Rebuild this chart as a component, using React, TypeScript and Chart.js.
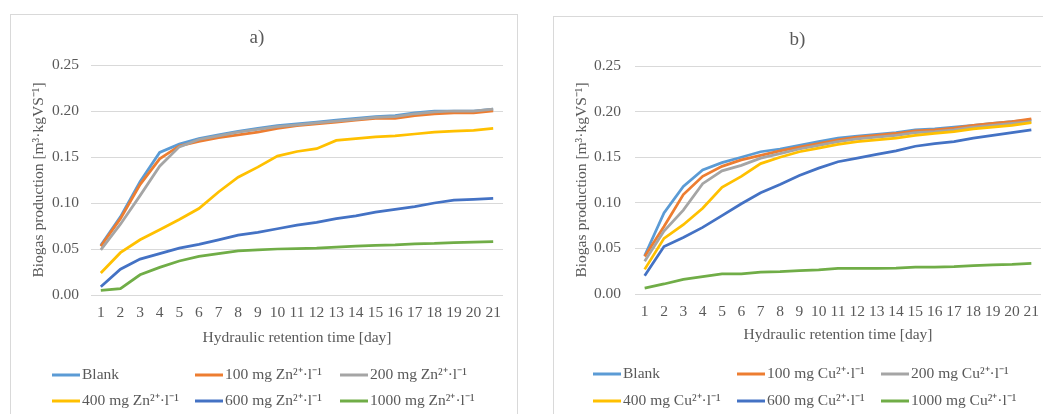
import React, { useEffect, useRef } from "react";
import { Chart, registerables } from "chart.js";

Chart.register(...registerables);

const days = ["1","2","3","4","5","6","7","8","9","10","11","12","13","14","15","16","17","18","19","20","21"];

const seriesColors = ["#5B9BD5", "#ED7D31", "#A5A5A5", "#FFC000", "#4472C4", "#70AD47"];

const znLabels = ["Blank", "100 mg Zn²⁺·l⁻¹", "200 mg Zn²⁺·l⁻¹", "400 mg Zn²⁺·l⁻¹", "600 mg Zn²⁺·l⁻¹", "1000 mg Zn²⁺·l⁻¹"];
const cuLabels = ["Blank", "100 mg Cu²⁺·l⁻¹", "200 mg Cu²⁺·l⁻¹", "400 mg Cu²⁺·l⁻¹", "600 mg Cu²⁺·l⁻¹", "1000 mg Cu²⁺·l⁻¹"];

// Panel a) Zn
const znBlank = [0.054, 0.085, 0.123, 0.155, 0.164, 0.170, 0.174, 0.178, 0.181, 0.184, 0.186, 0.188, 0.190, 0.192, 0.194, 0.195, 0.198, 0.200, 0.200, 0.200, 0.202];
const zn100 = [0.053, 0.083, 0.120, 0.148, 0.162, 0.167, 0.171, 0.174, 0.177, 0.181, 0.184, 0.186, 0.188, 0.190, 0.192, 0.192, 0.195, 0.197, 0.198, 0.198, 0.200];
const zn200 = [0.049, 0.077, 0.108, 0.140, 0.161, 0.169, 0.173, 0.177, 0.180, 0.183, 0.185, 0.187, 0.189, 0.191, 0.193, 0.194, 0.197, 0.199, 0.200, 0.200, 0.202];
const zn400 = [0.024, 0.046, 0.060, 0.071, 0.082, 0.094, 0.112, 0.128, 0.139, 0.151, 0.156, 0.159, 0.168, 0.170, 0.172, 0.173, 0.175, 0.177, 0.178, 0.179, 0.181];
const zn600 = [0.009, 0.028, 0.039, 0.045, 0.051, 0.055, 0.060, 0.065, 0.068, 0.072, 0.076, 0.079, 0.083, 0.086, 0.090, 0.093, 0.096, 0.100, 0.103, 0.104, 0.105];
const zn1000 = [0.005, 0.007, 0.022, 0.030, 0.037, 0.042, 0.045, 0.048, 0.049, 0.050, 0.0505, 0.051, 0.052, 0.053, 0.054, 0.0545, 0.0555, 0.056, 0.057, 0.0575, 0.058];

// Panel b) Cu
const cuBlank = [0.042, 0.089, 0.118, 0.136, 0.144, 0.150, 0.156, 0.159, 0.163, 0.167, 0.171, 0.173, 0.175, 0.177, 0.180, 0.181, 0.183, 0.185, 0.187, 0.189, 0.191];
const cu100 = [0.041, 0.074, 0.109, 0.129, 0.140, 0.147, 0.152, 0.157, 0.161, 0.165, 0.169, 0.172, 0.174, 0.176, 0.179, 0.180, 0.182, 0.185, 0.187, 0.189, 0.192];
const cu200 = [0.036, 0.069, 0.092, 0.121, 0.135, 0.141, 0.149, 0.154, 0.159, 0.163, 0.167, 0.170, 0.172, 0.174, 0.177, 0.178, 0.180, 0.183, 0.185, 0.187, 0.189];
const cu400 = [0.027, 0.061, 0.076, 0.094, 0.117, 0.129, 0.143, 0.150, 0.156, 0.160, 0.164, 0.167, 0.169, 0.171, 0.174, 0.176, 0.178, 0.181, 0.183, 0.185, 0.188];
const cu600 = [0.020, 0.052, 0.062, 0.073, 0.086, 0.099, 0.111, 0.120, 0.130, 0.138, 0.145, 0.149, 0.153, 0.157, 0.162, 0.165, 0.167, 0.171, 0.174, 0.177, 0.180];
const cu1000 = [0.0065, 0.011, 0.016, 0.019, 0.022, 0.022, 0.024, 0.0245, 0.0255, 0.0265, 0.028, 0.028, 0.028, 0.0285, 0.0295, 0.0295, 0.030, 0.031, 0.032, 0.0325, 0.0335];

const yMin = 0;
const yMax = 0.25;
const yStep = 0.05;

const FONT = "'Liberation Serif', 'Times New Roman', serif";
const TEXT = "#595959";
const GRID = "#D9D9D9";
const FS = 15.5;

const gridLegend = {
  id: "gridLegend",
  afterDraw(chart: any, _args: any, opts: any) {
    const ctx = chart.ctx;
    ctx.save();
    chart.data.datasets.forEach((ds: any, i: number) => {
      const x = opts.cols[i % 3];
      const y = chart.chartArea.bottom + opts.rows[Math.floor(i / 3)];
      ctx.strokeStyle = ds.borderColor;
      ctx.lineWidth = 3;
      ctx.lineCap = "butt";
      ctx.beginPath();
      ctx.moveTo(x, y);
      ctx.lineTo(x + opts.lineLen, y);
      ctx.stroke();
      ctx.fillStyle = TEXT;
      ctx.font = `${opts.size}px ${FONT}`;
      ctx.textBaseline = "middle";
      ctx.textAlign = "left";
      ctx.fillText(ds.label, x + opts.lineLen + 2, y);
    });
    ctx.restore();
  },
};

type Geo = {
  left: number; top: number; w: number; h: number;
  plotL: number; plotR: number; plotT: number; plotB: number;
  titleC: number; xTitleOff: number; yTitleX: number; yTickPad: number;
  legendCols: number[]; legendRows: number[];
};

function Panel({ title, labels, series, geo }: { title: string; labels: string[]; series: number[][]; geo: Geo }) {
  const ref = useRef<HTMLCanvasElement | null>(null);
  useEffect(() => {
    if (!ref.current) return;
    const xH = 60;
    const font = { family: FONT, size: FS, weight: "normal" as const };
    const lh = FS * 1.2;
    const tlh = 19 * 1.2;
    const chart = new Chart(ref.current, {
      type: "line",
      data: {
        labels: days,
        datasets: series.map((d, i) => ({
          label: labels[i],
          data: d,
          borderColor: seriesColors[i],
          backgroundColor: seriesColors[i],
          borderWidth: 2.75,
          pointRadius: 0,
          tension: 0,
          fill: false,
          order: series.length - i,
        })),
      },
      options: {
        responsive: false,
        animation: false,
        devicePixelRatio: 1,
        layout: { padding: { left: 0, right: geo.w - geo.plotR, top: 0, bottom: geo.h - geo.plotB - xH } },
        plugins: {
          legend: { display: false },
          tooltip: { enabled: false },
          title: {
            display: true,
            text: title,
            color: TEXT,
            font: { family: FONT, size: 19, weight: "normal" },
            padding: { top: geo.titleC - tlh / 2, bottom: geo.plotT - geo.titleC - tlh / 2 },
          },
          gridLegend: { cols: geo.legendCols, rows: geo.legendRows, lineLen: 28, size: FS },
        } as any,
        scales: {
          x: {
            type: "category",
            offset: true,
            grid: { display: false, drawTicks: false },
            border: { display: false },
            ticks: { color: TEXT, font, padding: 18 - lh / 2, maxRotation: 0, autoSkip: false },
            title: {
              display: true,
              text: "Hydraulic retention time [day]",
              color: TEXT,
              font,
              padding: { top: 0, bottom: xH - lh / 2 - geo.xTitleOff },
            },
            afterFit: (s: any) => { s.height = xH; },
          },
          y: {
            min: yMin,
            max: yMax,
            ticks: { stepSize: yStep, color: TEXT, font, padding: geo.yTickPad, callback: (v: any) => Number(v).toFixed(2) },
            grid: { color: GRID, lineWidth: 1, drawTicks: false },
            border: { display: false },
            title: {
              display: true,
              text: "Biogas production [m³·kgVS⁻¹]",
              color: TEXT,
              font,
              padding: { top: geo.yTitleX - lh / 2, bottom: 0 },
            },
            afterFit: (s: any) => { s.width = geo.plotL; },
          },
        },
      },
      plugins: [gridLegend as any],
    });
    return () => chart.destroy();
  }, []);
  return (
    <div
      style={{
        position: "absolute",
        left: geo.left,
        top: geo.top,
        width: geo.w + 2,
        height: geo.h + 2,
        border: `1px solid ${GRID}`,
        boxSizing: "border-box",
        background: "#fff",
      }}
    >
      <canvas ref={ref} width={geo.w} height={geo.h} style={{ display: "block", width: geo.w, height: geo.h }} />
    </div>
  );
}

const geoA: Geo = {
  left: 10, top: 14, w: 506, h: 420,
  plotL: 80, plotR: 492, plotT: 50, plotB: 280,
  titleC: 23, xTitleOff: 43, yTitleX: 28, yTickPad: 12,
  legendCols: [41, 184, 329], legendRows: [80, 106],
};

const geoB: Geo = {
  left: 553, top: 16, w: 501, h: 420,
  plotL: 81, plotR: 487, plotT: 49, plotB: 277,
  titleC: 23, xTitleOff: 41, yTitleX: 28, yTickPad: 14,
  legendCols: [39, 183, 327], legendRows: [80, 107],
};

export default function App() {
  return (
    <div style={{ position: "fixed", left: 0, top: 0, width: 1043, height: 414, overflow: "hidden", background: "#fff" }}>
      <Panel title="a)" labels={znLabels} series={[znBlank, zn100, zn200, zn400, zn600, zn1000]} geo={geoA} />
      <Panel title="b)" labels={cuLabels} series={[cuBlank, cu100, cu200, cu400, cu600, cu1000]} geo={geoB} />
    </div>
  );
}
